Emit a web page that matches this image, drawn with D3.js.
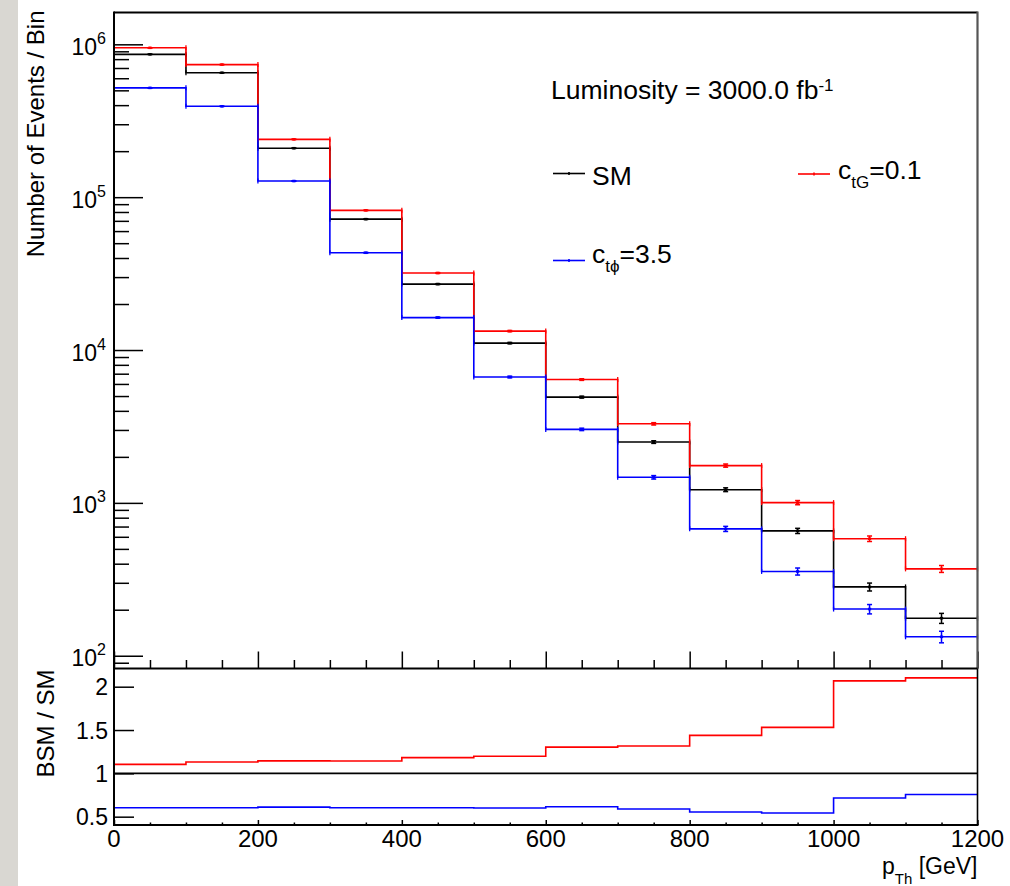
<!DOCTYPE html>
<html>
<head>
<meta charset="utf-8">
<script src="https://cdn.jsdelivr.net/npm/d3@7"></script>
<style>
  html, body { margin: 0; padding: 0; background: #ffffff; }
  svg { display: block; font-family: "Liberation Sans", Arial, Helvetica, sans-serif; }
</style>
</head>
<body>
<svg id="chart" width="1010" height="886"></svg>
<script>
// ---- histogram contents: p_T(h) bins of 100 GeV ----
const binEdges = [0, 100, 200, 300, 400, 500, 600, 700, 800, 900, 1000, 1100, 1200];
const smCounts    = [860000, 652000, 209000, 71800, 27000, 11100, 4920, 2500, 1220, 656, 282, 176];
const ctgCounts   = [949000, 737000, 239000, 82000, 31900, 13300, 6410, 3290, 1754, 1004, 583, 370];
const ctphiCounts = [519000, 393000, 127500, 43300, 16300, 6660, 3026, 1470, 676, 356, 202, 133];

// ---- axis ticks and labels ----
const xTickValues = [0, 200, 400, 600, 800, 1000, 1200];
const xTickLabels = ["0", "200", "400", "600", "800", "1000", "1200"];
const decadeTicks = [100, 1000, 10000, 100000, 1000000];
const decadeExponents = ["2", "3", "4", "5", "6"];
const ratioTickValues = [0.5, 1, 1.5, 2];
const ratioTickLabels = ["0.5", "1", "1.5", "2"];

// ---- layout ----
const W = 1010, H = 886;
const L = 114, R = 977.5, T = 12.5, M = 668.5, B = 825;

const svg = d3.select("#chart");
svg.append("rect").attr("width", W).attr("height", H).attr("fill", "#ffffff");
svg.append("rect").attr("x", 0).attr("y", 0).attr("width", 18).attr("height", H).attr("fill", "#d9d7d2");

const x = d3.scaleLinear().domain([0, 1200]).range([L, R]);
const y = d3.scaleLog().domain([82.5, 1.615e6]).range([M, T]);
const yr = d3.scaleLinear().domain([0.404, 2.21]).range([B, M]);

const series = [
  { key: "sm",    counts: smCounts,    color: "#000000" },
  { key: "ctg",   counts: ctgCounts,   color: "#ff0000" },
  { key: "ctphi", counts: ctphiCounts, color: "#0000ff" }
];

function stepPoints(vals) {
  const pts = vals.map((v, i) => [binEdges[i], v]);
  pts.push([binEdges[binEdges.length - 1], vals[vals.length - 1]]);
  return pts;
}

// ---- upper panel: event yields ----
const upperPanel = svg.append("g");
const stepTop = d3.line().x(d => x(d[0])).y(d => y(d[1])).curve(d3.curveStepAfter);

series.forEach(s => {
  const g = upperPanel.append("g").attr("stroke", s.color).attr("fill", "none");
  g.append("path").attr("d", stepTop(stepPoints(s.counts))).attr("stroke-width", 1.6);
  s.counts.forEach((v, i) => {
    const x0 = x(binEdges[i]), x1 = x(binEdges[i + 1]);
    const xc = x((binEdges[i] + binEdges[i + 1]) / 2);
    const yc = y(v);
    const e = Math.sqrt(v);
    const ylo = y(v - e), yhi = y(v + e);
    // bin-width end marks
    g.append("line").attr("x1", x0).attr("x2", x0).attr("y1", yc - 2.5).attr("y2", yc + 2.5).attr("stroke-width", 1.3);
    g.append("line").attr("x1", x1).attr("x2", x1).attr("y1", yc - 2.5).attr("y2", yc + 2.5).attr("stroke-width", 1.3);
    // statistical error bar
    g.append("line").attr("x1", xc).attr("x2", xc).attr("y1", ylo).attr("y2", yhi).attr("stroke-width", 1.5);
    g.append("line").attr("x1", xc - 2.5).attr("x2", xc + 2.5).attr("y1", ylo).attr("y2", ylo).attr("stroke-width", 1.5);
    g.append("line").attr("x1", xc - 2.5).attr("x2", xc + 2.5).attr("y1", yhi).attr("y2", yhi).attr("stroke-width", 1.5);
    g.append("rect").attr("x", xc - 1.6).attr("y", yc - 1.3).attr("width", 3.2).attr("height", 2.6)
      .attr("fill", s.color).attr("stroke", "none");
  });
});

// ---- lower panel: ratio to SM ----
const lowerPanel = svg.append("g");
const stepLow = d3.line().x(d => x(d[0])).y(d => yr(d[1])).curve(d3.curveStepAfter);
series.forEach(s => {
  const ratio = s.counts.map((v, i) => v / smCounts[i]);
  lowerPanel.append("path").attr("d", stepLow(stepPoints(ratio)))
    .attr("fill", "none").attr("stroke", s.color).attr("stroke-width", 1.6);
});

// ---- axes ----
function styleAxis(g) {
  g.select(".domain").remove();
  g.selectAll(".tick line").attr("stroke", "#000").attr("stroke-width", 1.5);
  g.selectAll(".tick text").remove();
}

const minorX = d3.range(0, 1201, 50).filter(v => v % 200 !== 0);

// upper panel x ticks
svg.append("g").attr("transform", `translate(0,${M})`)
  .call(d3.axisBottom(x).tickValues(xTickValues).tickSize(-17)).call(styleAxis);
svg.append("g").attr("transform", `translate(0,${M})`)
  .call(d3.axisBottom(x).tickValues(minorX).tickSize(-8.5)).call(styleAxis);

// lower panel x ticks
svg.append("g").attr("transform", `translate(0,${B})`)
  .call(d3.axisBottom(x).tickValues(xTickValues).tickSize(-5)).call(styleAxis);
svg.append("g").attr("transform", `translate(0,${B})`)
  .call(d3.axisBottom(x).tickValues(minorX).tickSize(-2.5)).call(styleAxis);

// upper panel log y ticks
const minorY = y.ticks().filter(v => decadeTicks.indexOf(v) < 0);
svg.append("g").attr("transform", `translate(${L},0)`)
  .call(d3.axisLeft(y).tickValues(decadeTicks).tickSize(-29)).call(styleAxis);
svg.append("g").attr("transform", `translate(${L},0)`)
  .call(d3.axisLeft(y).tickValues(minorY).tickSize(-15)).call(styleAxis);

// lower panel y ticks
svg.append("g").attr("transform", `translate(${L},0)`)
  .call(d3.axisLeft(yr).tickValues(ratioTickValues).tickSize(-20)).call(styleAxis);

// ---- frame ----
const frame = svg.append("g").attr("fill", "none");
frame.append("line").attr("x1", L).attr("x2", R).attr("y1", T).attr("y2", T).attr("stroke", "#000").attr("stroke-width", 2);
frame.append("line").attr("x1", R).attr("x2", R).attr("y1", T - 1).attr("y2", M).attr("stroke", "#555").attr("stroke-width", 2.2);
frame.append("line").attr("x1", R).attr("x2", R).attr("y1", M).attr("y2", B).attr("stroke", "#000").attr("stroke-width", 1.6);
frame.append("line").attr("x1", L).attr("x2", L).attr("y1", T - 1).attr("y2", B + 1).attr("stroke", "#000").attr("stroke-width", 2);
frame.append("line").attr("x1", L).attr("x2", R).attr("y1", M).attr("y2", M).attr("stroke", "#000").attr("stroke-width", 2);
frame.append("line").attr("x1", L).attr("x2", R + 1).attr("y1", B).attr("y2", B).attr("stroke", "#000").attr("stroke-width", 2);

// ---- tick labels ----
const labels = svg.append("g").attr("fill", "#000");
decadeTicks.forEach((v, i) => {
  const t = labels.append("text").attr("x", L - 8).attr("y", y(v) + 10.5)
    .attr("text-anchor", "end").attr("font-size", 23);
  t.append("tspan").text("10");
  t.append("tspan").attr("dy", -11).attr("font-size", 16).text(decadeExponents[i]);
});
ratioTickValues.forEach((v, i) => {
  labels.append("text").attr("x", L - 6).attr("y", yr(v) + 8.5)
    .attr("text-anchor", "end").attr("font-size", 23).text(ratioTickLabels[i]);
});
xTickValues.forEach((v, i) => {
  labels.append("text").attr("x", x(v)).attr("y", 847)
    .attr("text-anchor", "middle").attr("font-size", 24).text(xTickLabels[i]);
});

// ---- axis titles ----
labels.append("text").attr("transform", `translate(44,${T - 2}) rotate(-90)`)
  .attr("text-anchor", "end").attr("font-size", 24).text("Number of Events / Bin");
labels.append("text").attr("transform", `translate(54,${M + 1}) rotate(-90)`)
  .attr("text-anchor", "end").attr("font-size", 24).text("BSM / SM");
const xt = labels.append("text").attr("x", R).attr("y", 874).attr("text-anchor", "end").attr("font-size", 23);
xt.append("tspan").text("p");
xt.append("tspan").attr("dy", 10).attr("font-size", 15).text("Th");
xt.append("tspan").attr("dy", -10).text(" [GeV]");

// ---- luminosity and legend ----
const lum = labels.append("text").attr("x", 551).attr("y", 98.5).attr("font-size", 26.5);
lum.append("tspan").text("Luminosity = 3000.0 fb");
lum.append("tspan").attr("dy", -7.5).attr("font-size", 17).text("-1");

const legend = svg.append("g");
const legendItems = [
  { color: "#000000", lx: 553, ly: 173.5, tx: 592, ty: 185, main: "SM", sub: "", rest: "" },
  { color: "#ff0000", lx: 798, ly: 174, tx: 838, ty: 179, main: "c", sub: "tG", rest: "=0.1" },
  { color: "#0000ff", lx: 553, ly: 260.5, tx: 592, ty: 263, main: "c", sub: "t\u03d5", rest: "=3.5" }
];
legendItems.forEach(d => {
  legend.append("line").attr("x1", d.lx).attr("x2", d.lx + 32).attr("y1", d.ly).attr("y2", d.ly)
    .attr("stroke", d.color).attr("stroke-width", 1.6);
  legend.append("line").attr("x1", d.lx + 16).attr("x2", d.lx + 16).attr("y1", d.ly - 1.5).attr("y2", d.ly + 1.5)
    .attr("stroke", d.color).attr("stroke-width", 1.6);
  const t = legend.append("text").attr("x", d.tx).attr("y", d.ty).attr("font-size", 26.5).attr("fill", "#000");
  t.append("tspan").text(d.main);
  if (d.sub) {
    t.append("tspan").attr("dy", 9).attr("font-size", 17).text(d.sub);
    t.append("tspan").attr("dy", -9).text(d.rest);
  }
});
</script>
</body>
</html>
